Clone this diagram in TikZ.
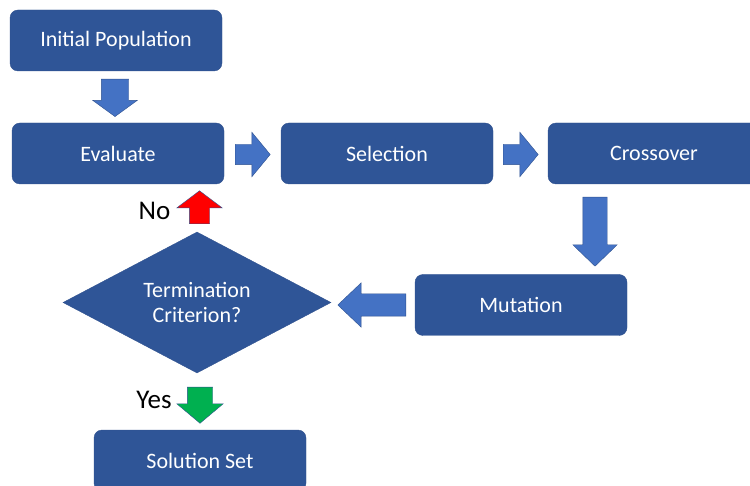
\documentclass[tikz,border=0pt]{standalone}
\usepackage{fontspec}
\setmainfont{Carlito}
\usetikzlibrary{shapes.geometric}
\usetikzlibrary{shapes.arrows}
\definecolor{BoxFill}{HTML}{2F5597}
\definecolor{BoxEdge}{HTML}{2F528F}
\definecolor{ArrowFill}{HTML}{4472C4}
\definecolor{NoRed}{HTML}{FF0000}
\definecolor{YesGreen}{HTML}{00B050}
\tikzset{
    stepbox/.style = {
        shape          = rectangle,
        rounded corners = 8pt,
        draw           = BoxEdge,
        fill           = BoxFill,
        text           = white,
        minimum width  = 212pt,
        minimum height = 61pt,
        font           = \fontsize{22}{25}\selectfont,
    },
    blockarrow/.style = {
        shape          = single arrow,
        draw           = BoxEdge,
        fill           = ArrowFill,
        inner sep      = 10pt,
        anchor         = tail,
        single arrow head indent = 0pt,
    },
    answer/.style = {
        text = black,
        font = \fontsize{27}{30}\selectfont,
    },
}

\begin{document}
\begin{tikzpicture}[x = 1pt, y = -1pt]
                    \useasboundingbox (0, 0) rectangle (750, 486);

                    \coordinate (INIT)   at (116, 40.5);
                    \coordinate (EVAL)   at (118, 153.5);
                    \coordinate (SELECT) at (387, 153.5);
                    \coordinate (CROSS)  at (654, 153.5);
                    \coordinate (MUT)    at (521, 305);
                    \coordinate (TERM)   at (197, 302.5);
                    \coordinate (SOL)    at (200, 460.5);

                    \node (init)   at (INIT)   [stepbox] {Initial Population};
                    \node (eval)   at (EVAL)   [stepbox] {Evaluate};
                    \node (select) at (SELECT) [stepbox] {Selection};
                    \node (cross)  at (CROSS)  [stepbox] {Crossover};
                    \node (mut)    at (MUT)    [stepbox] {Mutation};
                    \node (sol)    at (SOL)    [stepbox] {Solution Set};

                    \node (term) at (TERM) [
                        shape          = diamond,
                        aspect         = 2,
                        inner sep      = 0pt,
                        draw           = BoxEdge,
                        fill           = BoxFill,
                        text           = white,
                        minimum width  = 268pt,
                        minimum height = 141pt,
                        align          = center,
                        font           = \fontsize{22}{25}\selectfont,
                    ] {Termination\\Criterion?};

                    % block arrows, placed by their tails
                    \begin{scope}[every node/.style = {blockarrow}]
                        \node (initeval)    at (115,   79)   [shape border rotate = 270, inner sep = 13.5pt, single arrow head extend = 8.5pt,  minimum height = 34pt, single arrow tip angle = 108] {};
                        \node (evalselect)  at (235,   154.5) [inner sep = 10pt, single arrow head extend = 12pt, minimum height = 35pt, single arrow tip angle = 101] {};
                        \node (selectcross) at (503,   154.5) [inner sep = 10pt, single arrow head extend = 12pt, minimum height = 35pt, single arrow tip angle = 101] {};
                        \node (crossmut)    at (595,   197)   [shape border rotate = 270, inner sep = 12pt, single arrow head extend = 10pt, minimum height = 69pt, single arrow tip angle = 92] {};
                        \node (mutterm)     at (406,   305)   [shape border rotate = 180, inner sep = 11pt, single arrow head extend = 11pt, minimum height = 68pt, single arrow tip angle = 87] {};
                        \node (termno)      at (199.5, 224)   [shape border rotate = 90,  inner sep = 10pt, single arrow head extend = 12.5pt, minimum height = 33pt, single arrow tip angle = 106, fill = NoRed] {};
                        \node (termyes)     at (200,   387)   [shape border rotate = 270, inner sep = 12.5pt, single arrow head extend = 10.5pt, minimum height = 35pt, single arrow tip angle = 100, fill = YesGreen] {};
                    \end{scope}

                    \node (lno)  at (154.5, 211) [answer] {No};
                    \node (lyes) at (154,   400) [answer] {Yes};
                \end{tikzpicture}
\end{document}
